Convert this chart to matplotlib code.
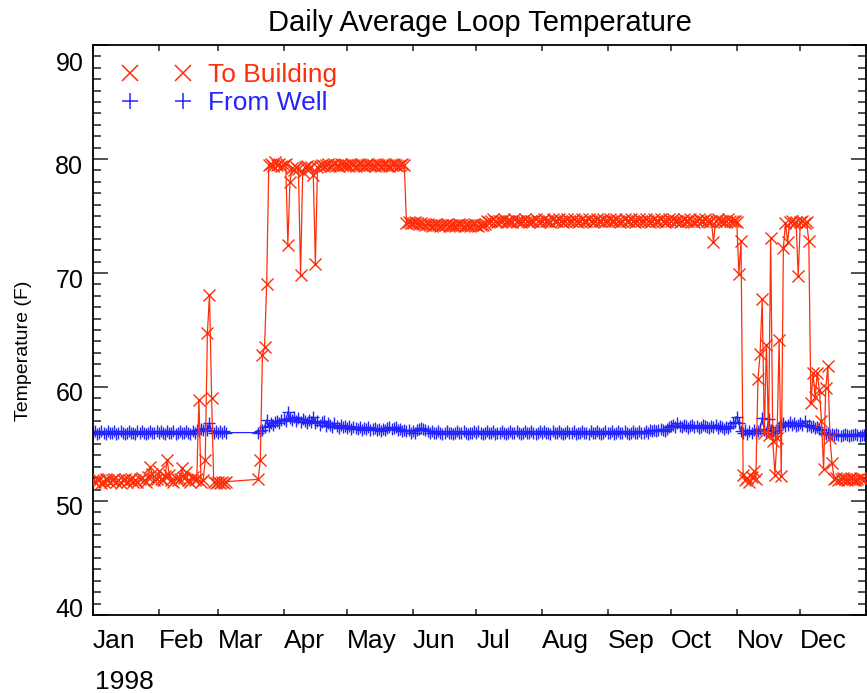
import numpy as np
import pandas as pd
import matplotlib
matplotlib.use("Agg")
import matplotlib.pyplot as plt
import matplotlib.dates as mdates
from matplotlib.lines import Line2D
from matplotlib.ticker import MultipleLocator, FuncFormatter
from matplotlib.transforms import ScaledTranslation

# ---------------- data (daily averages, 1998) ----------------
YEAR = 1998
# March has a data gap (Mar 6 - Mar 19)
mar_days = [1, 2, 3, 4, 5, 20, 21, 22, 23, 24, 25, 26, 27, 28, 29, 30, 31]

# To Building (F)
jan_to = [51.8, 51.7, 51.9, 51.8, 51.6, 51.7, 51.9, 51.8, 51.7, 51.8,
          51.9, 51.7, 51.8, 51.6, 51.8, 51.9, 51.7, 51.8, 51.9, 51.7,
          51.8, 51.7, 51.9, 52.0, 51.8, 51.7, 52.1, 53.0, 52.4, 51.8, 51.9]
feb_to = [52.6, 51.9, 51.8, 52.2, 53.6, 52.3, 51.8, 51.7, 52.0, 51.8,
          51.9, 52.9, 52.0, 52.5, 51.8, 51.7, 52.1, 51.8, 51.9, 58.9,
          51.7, 51.8, 53.6, 64.7, 68.1, 59.0, 51.7, 51.6]
mar_to = [51.7, 51.6, 51.7, 51.6, 51.7,
          51.9, 53.6, 62.8, 63.5, 69.0, 79.5, 79.6, 79.4, 79.7, 79.5, 79.6, 79.4]
apr_to = [79.5, 79.6, 72.5, 78.0, 79.2, 79.0, 79.3, 79.1, 69.8, 78.9,
          79.3, 79.4, 79.2, 79.3, 78.6, 70.8, 79.3, 79.4, 79.5, 79.4,
          79.5, 79.6, 79.4, 79.5, 79.6, 79.5, 79.4, 79.6, 79.5, 79.5]
may_to = [79.5, 79.4, 79.6, 79.5, 79.4, 79.5, 79.6, 79.5, 79.4, 79.5,
          79.6, 79.5, 79.5, 79.4, 79.6, 79.5, 79.4, 79.5, 79.6, 79.5,
          79.4, 79.5, 79.6, 79.5, 79.4, 79.5, 79.6, 79.5, 74.4, 74.5, 74.4]
jun_to = [74.4, 74.5, 74.4, 74.3, 74.4, 74.3, 74.2, 74.3, 74.2, 74.1,
          74.2, 74.3, 74.2, 74.1, 74.2, 74.2, 74.3, 74.1, 74.2, 74.2,
          74.1, 74.2, 74.3, 74.2, 74.1, 74.2, 74.2, 74.1, 74.2, 74.3]
jul_to = [74.2, 74.1, 74.2, 74.2, 74.3, 74.6, 74.5, 74.6, 74.7, 74.6,
          74.5, 74.6, 74.6, 74.7, 74.5, 74.6, 74.6, 74.5, 74.7, 74.6,
          74.6, 74.5, 74.6, 74.7, 74.6, 74.5, 74.6, 74.6, 74.7, 74.6, 74.5]
aug_to = [74.6, 74.7, 74.6, 74.6, 74.5, 74.7, 74.6, 74.6, 74.7, 74.6,
          74.5, 74.6, 74.7, 74.6, 74.6, 74.7, 74.6, 74.5, 74.6, 74.7,
          74.6, 74.6, 74.7, 74.6, 74.5, 74.6, 74.7, 74.6, 74.6, 74.7, 74.6]
sep_to = [74.6, 74.7, 74.6, 74.6, 74.7, 74.6, 74.5, 74.6, 74.7, 74.6,
          74.6, 74.7, 74.6, 74.5, 74.6, 74.7, 74.6, 74.6, 74.7, 74.6,
          74.5, 74.6, 74.7, 74.6, 74.6, 74.7, 74.6, 74.5, 74.6, 74.7]
oct_to = [74.6, 74.7, 74.6, 74.6, 74.5, 74.6, 74.7, 74.6, 74.6, 74.7,
          74.6, 74.5, 74.6, 74.7, 74.6, 74.6, 74.7, 74.6, 74.5, 74.6,
          72.7, 74.6, 74.7, 74.6, 74.6, 74.5, 74.6, 74.7, 74.6, 74.6, 74.6]
nov_to = [74.5, 69.9, 72.8, 52.3, 51.8, 52.0, 51.7, 52.1, 52.6, 51.9,
          60.7, 62.9, 67.7, 56.0, 63.7, 55.8, 73.1, 55.3, 52.3, 55.5,
          64.1, 52.2, 72.2, 74.4, 72.7, 74.5, 74.6, 74.4, 74.5, 69.7]
dec_to = [74.5, 74.6, 74.4, 74.5, 72.8, 58.6, 61.2, 59.1, 61.2, 59.7,
          57.0, 52.8, 59.9, 61.8, 55.5, 53.3, 51.9, 52.0, 51.8, 51.9,
          52.0, 51.9, 51.8, 51.9, 52.0, 51.9, 51.8, 51.9, 52.0, 51.9, 51.8]

# From Well (F)
jan_fw = [56.0, 56.1, 55.9, 56.0, 56.1, 56.0, 55.9, 56.1, 56.0, 56.0,
          56.1, 55.9, 56.0, 56.1, 56.0, 55.9, 56.0, 56.1, 56.0, 56.0,
          55.9, 56.1, 56.0, 56.1, 56.0, 55.9, 56.0, 56.1, 56.0, 56.0, 56.1]
feb_fw = [56.0, 56.1, 56.0, 55.9, 56.1, 56.0, 56.0, 56.1, 55.9, 56.0,
          56.1, 56.0, 56.0, 56.1, 56.0, 55.9, 56.1, 56.0, 56.2, 56.1,
          56.3, 56.2, 56.4, 56.2, 56.8, 56.1, 56.0, 56.1]
mar_fw = [56.0, 56.1, 56.0, 56.1, 56.0,
          56.0, 56.1, 56.2, 56.5, 57.1, 56.6, 56.8, 56.7, 56.9, 57.0, 56.8, 57.1]
apr_fw = [57.2, 57.0, 57.8, 57.3, 57.1, 57.4, 57.0, 57.3, 56.9, 57.2,
          57.0, 56.8, 57.1, 56.9, 57.4, 56.8, 57.0, 56.7, 56.9, 57.0,
          56.6, 56.8, 56.7, 56.5, 56.8, 56.6, 56.4, 56.7, 56.5, 56.6]
may_fw = [56.4, 56.6, 56.3, 56.5, 56.4, 56.3, 56.5, 56.2, 56.4, 56.3,
          56.5, 56.2, 56.3, 56.4, 56.2, 56.3, 56.1, 56.3, 56.2, 56.4,
          56.5, 56.3, 56.4, 56.5, 56.2, 56.3, 56.1, 56.2, 56.1, 56.2, 56.0]
jun_fw = [56.1, 56.0, 56.2, 56.3, 56.4, 56.3, 56.2, 56.1, 56.0, 56.1,
          56.0, 56.0, 56.1, 56.0, 55.9, 56.0, 56.1, 56.0, 56.0, 55.9,
          56.0, 56.1, 56.0, 56.0, 56.1, 56.0, 55.9, 56.0, 56.0, 56.1]
jul_fw = [56.0, 56.1, 56.0, 55.9, 56.0, 56.1, 56.0, 56.0, 56.1, 55.9,
          56.0, 56.0, 56.1, 56.0, 55.9, 56.0, 56.1, 56.0, 56.0, 56.1,
          56.0, 55.9, 56.0, 56.1, 56.0, 56.0, 56.1, 56.0, 55.9, 56.0, 56.1]
aug_fw = [56.0, 56.1, 56.0, 56.0, 55.9, 56.1, 56.0, 56.0, 56.1, 56.0,
          55.9, 56.0, 56.1, 56.0, 56.0, 56.1, 55.9, 56.0, 56.0, 56.1,
          56.0, 56.0, 55.9, 56.1, 56.0, 56.0, 56.1, 56.0, 55.9, 56.0, 56.1]
sep_fw = [56.0, 56.0, 56.1, 55.9, 56.0, 56.1, 56.0, 56.0, 56.1, 56.0,
          55.9, 56.0, 56.1, 56.0, 56.0, 56.1, 56.0, 56.0, 56.1, 56.0,
          56.2, 56.1, 56.2, 56.1, 56.2, 56.3, 56.2, 56.1, 56.3, 56.5]
oct_fw = [56.6, 56.7, 56.5, 56.8, 56.6, 56.5, 56.7, 56.6, 56.4, 56.6,
          56.7, 56.5, 56.6, 56.4, 56.5, 56.7, 56.6, 56.5, 56.4, 56.6,
          56.5, 56.7, 56.4, 56.6, 56.5, 56.3, 56.5, 56.4, 56.6, 56.8, 56.9]
nov_fw = [57.4, 56.8, 56.1, 56.0, 56.2, 55.9, 56.1, 56.0, 56.2, 56.0,
          56.1, 56.3, 57.3, 56.2, 56.0, 57.2, 56.2, 56.1, 56.0, 56.2,
          56.5, 56.7, 56.8, 56.6, 56.7, 56.9, 56.7, 56.8, 56.6, 56.7]
dec_fw = [56.8, 56.7, 57.0, 56.6, 56.7, 56.5, 56.6, 56.4, 56.5, 56.3,
          56.2, 56.0, 55.9, 56.0, 55.8, 55.9, 55.8, 55.9, 55.8, 55.7,
          55.8, 55.9, 55.8, 55.7, 55.8, 55.8, 55.9, 55.8, 55.7, 55.8, 55.8]

to_building_months = [jan_to, feb_to, mar_to, apr_to, may_to, jun_to,
                      jul_to, aug_to, sep_to, oct_to, nov_to, dec_to]
from_well_months = [jan_fw, feb_fw, mar_fw, apr_fw, may_fw, jun_fw,
                    jul_fw, aug_fw, sep_fw, oct_fw, nov_fw, dec_fw]

series_labels = ["To Building", "From Well"]
title = "Daily Average Loop Temperature"
ylabel = "Temperature (F)"
year_label = "1998"


def month_dates(m, n):
    days = mar_days if m == 3 else range(1, n + 1)
    return [pd.Timestamp(YEAR, m, d) for d in days]


dates_to, vals_to, dates_fw, vals_fw = [], [], [], []
for m, (vt, vf) in enumerate(zip(to_building_months, from_well_months), start=1):
    dates_to += month_dates(m, len(vt))
    vals_to += vt
    dates_fw += month_dates(m, len(vf))
    vals_fw += vf
dates_to = pd.DatetimeIndex(dates_to)
dates_fw = pd.DatetimeIndex(dates_fw)

# ---------------- style ----------------
RED = "#ff2e0a"
BLUE = "#2424ff"
FONT = ["Liberation Sans", "DejaVu Sans"]
plt.rcParams["font.family"] = FONT

fig = plt.figure(figsize=(8.67, 6.93), dpi=100)
ax = fig.add_axes([0.1073, 0.1126, 0.8915, 0.8224])

ax.plot(dates_fw, vals_fw, color=BLUE, lw=0.9, marker="+", ms=8, mew=1.0, zorder=2)
ax.plot(dates_to, vals_to, color=RED, lw=0.9, marker="x", ms=8, mew=1.0, zorder=3)

ax.set_xlim(pd.Timestamp(YEAR, 1, 1), pd.Timestamp(YEAR + 1, 1, 1))
ax.set_ylim(40, 90)

ax.xaxis.set_major_locator(mdates.MonthLocator())
ax.xaxis.set_major_formatter(FuncFormatter(
    lambda v, pos: mdates.num2date(v).strftime("%b") if mdates.num2date(v).year == YEAR else ""))
ax.yaxis.set_major_locator(MultipleLocator(10))
ax.yaxis.set_minor_locator(MultipleLocator(1))

for s in ax.spines.values():
    s.set_linewidth(1.3)
    s.set_color("black")

ax.tick_params(which="both", direction="in", top=True, right=True, width=1.1, color="#222222")
ax.tick_params(axis="y", which="major", length=11, labelsize=18, pad=7)
ax.tick_params(axis="y", which="minor", length=5.5)
ax.tick_params(axis="x", which="major", length=4, labelsize=19, pad=10)

ax.set_title(title, fontsize=21, pad=10)
ax.set_ylabel(ylabel, fontsize=14)
ax.yaxis.set_label_coords(-0.079, 0.463)
ax.text(0.003, -0.097, year_label, transform=ax.transAxes, fontsize=19,
        ha="left", va="top")

handles = [Line2D([], [], ls="none", marker="x", ms=11, mew=1.1, color=RED),
           Line2D([], [], ls="none", marker="+", ms=11, mew=1.1, color=BLUE)]
leg = ax.legend(handles, series_labels, loc="upper left", bbox_to_anchor=(0.0375, 0.968),
                frameon=False, numpoints=2, handlelength=2.61, handletextpad=0.64,
                labelspacing=0.15, borderpad=0, borderaxespad=0, fontsize=19)
for txt, c in zip(leg.get_texts(), [RED, BLUE]):
    txt.set_color(c)

fig.canvas.draw()
plt.setp(ax.get_xticklabels(), ha="left")
# IDL-style vertical nudges of the y tick labels (pixels, + = down)
nudge = {40: -7, 90: 16}
for tick in ax.yaxis.get_major_ticks():
    dy = nudge.get(int(round(tick.get_loc())), 5)
    lbl = tick.label1
    lbl.set_transform(lbl.get_transform() + ScaledTranslation(0, -dy / 100, fig.dpi_scale_trans))
fig.savefig("out.png", dpi=100)
